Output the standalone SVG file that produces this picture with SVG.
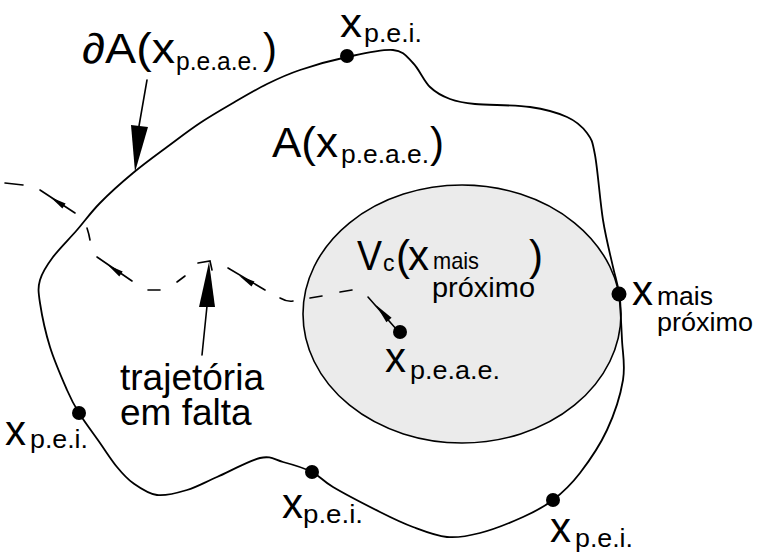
<svg xmlns="http://www.w3.org/2000/svg" width="762" height="559" viewBox="0 0 762 559">
<style>
text{font-family:"Liberation Sans",Arial,sans-serif;fill:#000}
.big{font-size:42px}
.sub{font-size:26px}
.line{fill:none;stroke:#000;stroke-width:1.8;stroke-linejoin:round;stroke-linecap:round}
.thin{fill:none;stroke:#000;stroke-width:1.6;stroke-linecap:round}
.head{fill:#000;stroke:none}
.dot{fill:#000}
</style>
<rect width="762" height="559" fill="#fff"/>
<g id="region-V">
<ellipse cx="462" cy="314" rx="159" ry="129" fill="#ebebeb" stroke="#000" stroke-width="1.6"/>
</g>
<g id="region-A">
<path class="line" d="M347,57 C362.5,53.7 382,49 393,50 C404,51 406.8,56.8 413,63 C419.2,69.2 423.8,81 430,87 C436.2,93 442.5,96.2 450,99 C457.5,101.8 461.7,102.7 475,104 C488.3,105.3 514.7,104.8 530,107 C545.3,109.2 557.5,112.7 567,117 C576.5,121.3 582.3,126.7 587,133 C591.7,139.3 592.3,140.5 595,155 C597.7,169.5 600,201.3 603,220 C606,238.7 610.3,254.7 613,267 C615.7,279.3 617.5,281.8 619,294 C620.5,306.2 621.3,325.7 622,340 C622.7,354.3 625.5,365 623,380 C620.5,395 614.2,414.5 607,430 C599.8,445.5 589,461.3 580,473 C571,484.7 562.5,492.7 553,500 C543.5,507.3 535.2,511.5 523,517 C510.8,522.5 492.7,529.7 480,533 C467.3,536.3 458.2,538 447,537 C435.8,536 424.2,531.2 413,527 C401.8,522.8 393.3,518.7 380,512 C366.7,505.3 344.3,493.7 333,487 C321.7,480.3 320.3,476.2 312,472 C303.7,467.8 291.7,464.3 283,462 C274.3,459.7 271,455.5 260,458 C249,460.5 229.2,471.7 217,477 C204.8,482.3 197,487 187,490 C177,493 166,496.2 157,495 C148,493.8 139.7,487.7 133,483 C126.3,478.3 122.5,473.7 117,467 C111.5,460.3 106.3,452 100,443 C93.7,434 84.5,421.8 79,413 C73.5,404.2 71.8,401 67,390 C62.2,379 54.5,361.5 50,347 C45.5,332.5 41.7,314.2 40,303 C38.3,291.8 37.8,287.7 40,280 C42.2,272.3 46.8,265.3 53,257 C59.2,248.7 69.2,239 77,230 C84.8,221 90.7,212.5 100,203 C109.3,193.5 121.8,182.3 133,173 C144.2,163.7 155.8,155.3 167,147 C178.2,138.7 189,130.3 200,123 C211,115.7 221.8,109.5 233,103 C244.2,96.5 255.8,89.5 267,84 C278.2,78.5 286.7,74.5 300,70 C313.3,65.5 331.5,60.3 347,57 Z"/>
</g>
<g id="label-dA">
<text class="big" x="82" y="63" textLength="93" lengthAdjust="spacingAndGlyphs">∂A(x</text>
<text class="sub" x="176" y="70" textLength="82" lengthAdjust="spacingAndGlyphs">p.e.a.e.</text>
<text class="big" x="263" y="63">)</text>
</g>
<g id="label-A">
<text class="big" x="272" y="157" textLength="66" lengthAdjust="spacingAndGlyphs">A(x</text>
<text class="sub" x="341" y="163" textLength="88" lengthAdjust="spacingAndGlyphs">p.e.a.e.</text>
<text class="big" x="430" y="157">)</text>
</g>
<g id="label-Vc">
<text class="big" x="357" y="270" textLength="25" lengthAdjust="spacingAndGlyphs">V</text>
<text x="383" y="271" font-size="23">c</text>
<text class="big" x="396" y="270">(</text>
<text class="big" x="408" y="270">x</text>
<text x="433" y="269" font-size="24" textLength="46" lengthAdjust="spacingAndGlyphs">mais</text>
<text x="432" y="297" font-size="27" textLength="103" lengthAdjust="spacingAndGlyphs">próximo</text>
<text class="big" x="529" y="270">)</text>
</g>
<g id="point-pei-top">
<circle class="dot" cx="347" cy="56" r="7"/>
<text x="340" y="37" font-size="40" textLength="22" lengthAdjust="spacingAndGlyphs">x</text>
<text class="sub" x="364" y="42" textLength="58" lengthAdjust="spacingAndGlyphs">p.e.i.</text>
</g>
<g id="point-mais-proximo">
<circle class="dot" cx="619" cy="294" r="7.5"/>
<text class="big" x="632" y="305">x</text>
<text x="657" y="305" font-size="26" textLength="56" lengthAdjust="spacingAndGlyphs">mais</text>
<text x="657" y="331" font-size="26" textLength="96" lengthAdjust="spacingAndGlyphs">próximo</text>
</g>
<g id="point-peae">
<circle class="dot" cx="400" cy="332" r="7"/>
<text class="big" x="385" y="372">x</text>
<text class="sub" x="410" y="379" textLength="90" lengthAdjust="spacingAndGlyphs">p.e.a.e.</text>
</g>
<g id="point-pei-left">
<circle class="dot" cx="79" cy="413" r="7"/>
<text class="big" x="5" y="445">x</text>
<text class="sub" x="30" y="448" textLength="58" lengthAdjust="spacingAndGlyphs">p.e.i.</text>
</g>
<g id="point-pei-bottom">
<circle class="dot" cx="312" cy="472" r="7"/>
<text class="big" x="282" y="518">x</text>
<text class="sub" x="303" y="523" textLength="60" lengthAdjust="spacingAndGlyphs">p.e.i.</text>
</g>
<g id="point-pei-right">
<circle class="dot" cx="553" cy="500" r="7"/>
<text class="big" x="550" y="542">x</text>
<text class="sub" x="575" y="547" textLength="58" lengthAdjust="spacingAndGlyphs">p.e.i.</text>
</g>
<g id="label-trajetoria">
<text x="120" y="390" font-size="37">trajetória</text>
<text x="120" y="425" font-size="37">em falta</text>
</g>
<g id="connectors">
<g id="pointer-dA">
<line class="thin" x1="147" y1="80" x2="139" y2="126"/>
<polygon class="head" points="131,125 148,127 135,172"/>
</g>
<g id="pointer-trajetoria">
<line class="thin" x1="202" y1="355" x2="207" y2="306"/>
<polygon class="head" points="199,307 215,307 209,262"/>
</g>
<g id="trajectory">
<path class="thin" d="M5,183 L23,185"/>
<path class="thin" d="M40,190 L75,213"/>
<polygon class="head" points="50.6,197.2 65.6,203.5 62.4,208.5"/>
<path class="thin" d="M87,228 Q89,234 90,240"/>
<path class="thin" d="M97,257 L132,281"/>
<polygon class="head" points="107.8,264.9 122.7,271.5 119.3,276.5"/>
<path class="thin" d="M148,290 L160,290"/>
<path class="thin" d="M177,282 L185,276"/>
<path class="thin" d="M198,263 L210,261 L212,270"/>
<path class="thin" d="M228,268 L265,290"/>
<polygon class="head" points="239.2,275.8 254.5,281.4 251.5,286.6"/>
<path class="thin" d="M280,298 Q287,302 293,301"/>
<path class="thin" d="M310,298 L322,296"/>
<path class="thin" d="M340,292 L352,290"/>
<path class="thin" d="M368,297 L397,330"/>
<polygon class="head" points="376,305 391.6,317.7 386.4,322.3"/>
</g>
</g>
</svg>
